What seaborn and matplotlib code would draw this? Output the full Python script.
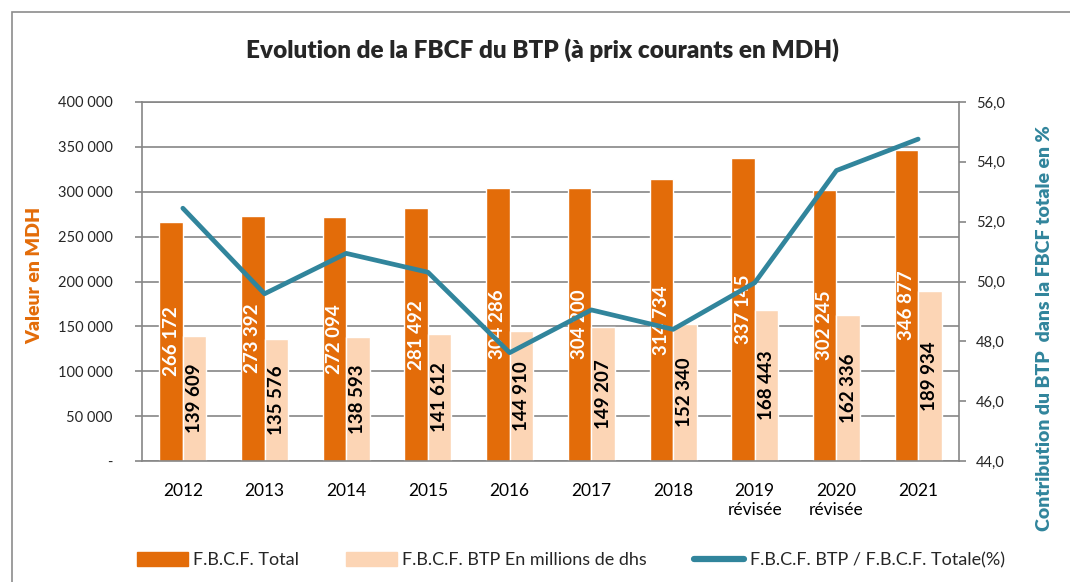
import numpy as np
import pandas as pd
import matplotlib.pyplot as plt
import matplotlib.patches as mpatches
from matplotlib.lines import Line2D
import seaborn as sns

# Data
years = ['2012', '2013', '2014', '2015', '2016', '2017', '2018',
         '2019\nrévisée', '2020\nrévisée', '2021']
fbcf_total = [266172, 273392, 272094, 281492, 304286, 304200, 314734, 337145, 302245, 346877]
fbcf_btp = [139609, 135576, 138593, 141612, 144910, 149207, 152340, 168443, 162336, 189934]
btp_share = [52.45, 49.59, 50.94, 50.31, 47.62, 49.05, 48.40, 49.96, 53.71, 54.76]

series_names = ['F.B.C.F. Total', 'F.B.C.F. BTP En millions de dhs']
line_name = 'F.B.C.F. BTP / F.B.C.F. Totale(%)'

ORANGE = '#E36C09'
LIGHT = '#FCD5B5'
TEAL = '#31859C'
GREY = '#868686'

df = pd.DataFrame({
    'year': years * 2,
    'value': fbcf_total + fbcf_btp,
    'series': [series_names[0]] * len(years) + [series_names[1]] * len(years),
})

sns.set_theme(style='white')
plt.rcParams['font.family'] = ['Lato', 'DejaVu Sans']


def fmt_thousands(v):
    return f"{int(v):,}".replace(",", " ")


fig = plt.figure(figsize=(10.7, 5.82), dpi=100)
ax = fig.add_axes([142 / 1070, 1 - 461 / 582, (959 - 142) / 1070, (461 - 102) / 582])

sns.barplot(data=df, x='year', y='value', hue='series', palette=[ORANGE, LIGHT],
            width=0.575, gap=0, saturation=1, legend=False, ax=ax, zorder=2)

# bar labels
for container, values, col in zip(ax.containers, [fbcf_total, fbcf_btp], ['white', 'black']):
    ax.bar_label(container, labels=[fmt_thousands(v) for v in values], label_type='center',
                 rotation=90, color=col, fontsize=13.5, fontweight='bold')

ax.set_ylim(0, 400000)
ax.set_yticks(np.arange(0, 400001, 50000))
ax.set_yticklabels(['-'] + [fmt_thousands(v) for v in np.arange(50000, 400001, 50000)])
ax.yaxis.grid(True, color=GREY, lw=1.2, zorder=0)
ax.set_axisbelow(True)
ax.set_xlabel('')
ax.set_ylabel('')

# x ticks: labels at centres, tick marks at category boundaries
ax.set_xticks(np.arange(-0.5, len(years), 1), minor=True)
ax.tick_params(axis='x', which='major', length=0, pad=16, labelsize=12.5, colors='black')
ax.tick_params(axis='x', which='minor', length=5, width=1.2, color=GREY, direction='out')
ax.tick_params(axis='y', length=5, width=1.2, color=GREY, direction='out', pad=16,
               labelsize=10.5, left=True)
for s in ['left', 'bottom', 'top']:
    ax.spines[s].set_color(GREY)
    ax.spines[s].set_linewidth(1.2)
ax.spines['right'].set_visible(False)

# percentage line on the secondary axis
ax2 = ax.twinx()
sns.lineplot(x=np.arange(len(years)), y=btp_share, color=TEAL, lw=3.4, ax=ax2,
             solid_capstyle='round', zorder=5)
ax2.set_ylim(44, 56)
ax2.set_yticks(np.arange(44, 56.1, 2))
ax2.set_yticklabels([f"{v:.1f}".replace('.', ',') for v in np.arange(44, 56.1, 2)])
ax2.tick_params(axis='y', length=5, width=1.2, color=GREY, direction='out', pad=7,
                labelsize=10.5, right=True)
for s in ['left', 'bottom', 'top']:
    ax2.spines[s].set_visible(False)
ax2.spines['right'].set_color(GREY)
ax2.spines['right'].set_linewidth(1.2)
ax.set_xlim(-0.5, len(years) - 0.5)

# titles
fig.text(543 / 1070, 1 - 50 / 582, 'Evolution de la FBCF du BTP (à prix courants en MDH)',
         ha='center', va='center', fontsize=17.5, fontweight='heavy')
fig.text(35 / 1070, 1 - 275 / 582, 'Valeur en MDH', rotation=90, ha='center', va='center',
         color=ORANGE, fontsize=14, fontweight='heavy')
fig.text(1045 / 1070, 1 - 328 / 582, 'Contribution du BTP  dans la FBCF totale en %',
         rotation=90, ha='center', va='center', color=TEAL, fontsize=14, fontweight='heavy')

# legend
handles = [mpatches.Patch(color=ORANGE), mpatches.Patch(color=LIGHT),
           Line2D([0], [0], color=TEAL, lw=4.5, solid_capstyle='round')]
fig.legend(handles, series_names + [line_name], loc='center', ncol=3, frameon=False,
           bbox_to_anchor=(571 / 1070, 1 - 560 / 582), fontsize=13, handlelength=2.8,
           handleheight=0.8, columnspacing=2.6, handletextpad=0.3)

# chart border
fig.patches.append(mpatches.Rectangle((12 / 1070, -0.1), 1.2, 1.1 - 12 / 582, fill=False,
                                      edgecolor='#8c8c8c', lw=1.2, transform=fig.transFigure))

fig.savefig('out.png', dpi=100)
